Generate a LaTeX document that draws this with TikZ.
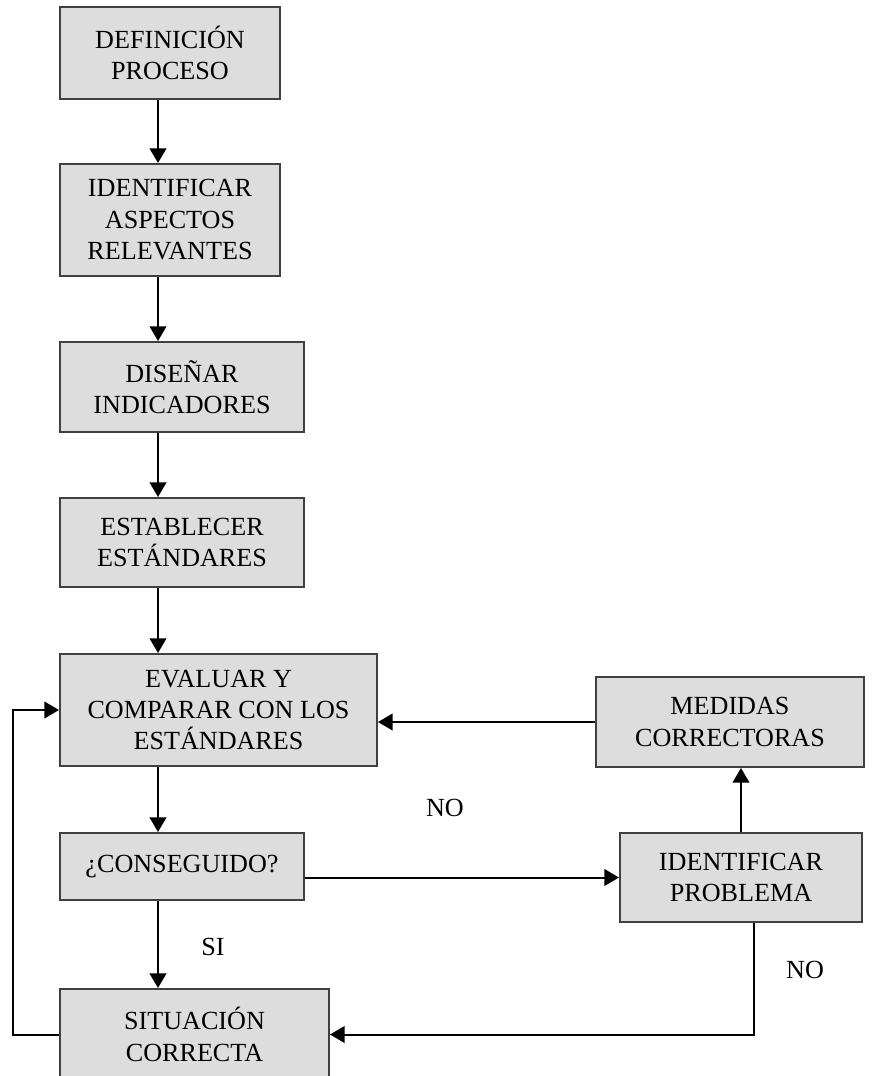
\documentclass[tikz,border=0pt]{standalone}
\usepackage{fontspec}
\setmainfont{Liberation Serif}
\usetikzlibrary{arrows.meta,calc}
\definecolor{boxfill}{HTML}{DDDDDD}
\definecolor{boxline}{HTML}{404040}
\begin{document}
\begin{tikzpicture}[x=0.75pt,y=-0.75pt,
  box/.style={draw=boxline,fill=boxfill,line width=1.5pt,inner sep=0pt,align=center,font=\fontsize{19.6}{23.6}\selectfont},
  lbl/.style={inner sep=0pt,font=\fontsize{19.6}{23.6}\selectfont},
  arr/.style={line width=1.5pt,-{Triangle[width=12.5pt,length=11pt]}},
  ln/.style={line width=1.5pt}]
\path[use as bounding box, clip] (0,0) rectangle (881,1076);

\node[box,minimum width=165pt,minimum height=69pt] (b1) at (170,53) {DEFINICIÓN\\PROCESO};
\node[box,minimum width=165pt,minimum height=84pt] (b2) at (170,220) {IDENTIFICAR\\ASPECTOS\\RELEVANTES};
\node[box,minimum width=183pt,minimum height=67.5pt] (b3) at (182,387) {DISEÑAR\\INDICADORES};
\node[box,minimum width=183pt,minimum height=66.75pt] (b4) at (182,542.5) {ESTABLECER\\ESTÁNDARES};
\node[box,minimum width=237.75pt,minimum height=84pt] (b5) at (218.5,710) {EVALUAR Y\\COMPARAR CON LOS\\ESTÁNDARES};
\node[box,minimum width=183pt,minimum height=50.25pt] (b6) at (182,866.5) {¿CONSEGUIDO?};
\node[box,minimum width=201.75pt,minimum height=68.25pt] (b7) at (194.5,1034.5) {SITUACIÓN\\CORRECTA};
\node[box,minimum width=201pt,minimum height=67.5pt] (m) at (730,722) {MEDIDAS\\CORRECTORAS};
\node[box,minimum width=181.5pt,minimum height=66.75pt] (ip) at (741,877.5) {IDENTIFICAR\\PROBLEMA};

\coordinate (ax) at (158,0);
\coordinate (lx) at (13,0);
\coordinate (dx) at (754,0);

\draw[arr] (b1.south -| ax) -- (b2.north -| ax);
\draw[arr] (b2.south -| ax) -- (b3.north -| ax);
\draw[arr] (b3.south -| ax) -- (b4.north -| ax);
\draw[arr] (b4.south -| ax) -- (b5.north -| ax);
\draw[arr] (b5.south -| ax) -- (b6.north -| ax);
\draw[arr] (b6.south -| ax) -- (b7.north -| ax);

\draw[arr] (b6.east |- ip.west) -- (ip.west);
\draw[arr] (ip.north) -- (m.south -| ip.north);
\draw[arr] (m.west) -- (b5.east |- m.west);
\draw[arr] (ip.south -| dx) -- (dx |- b7.east) -- (b7.east);
\draw[arr] (b7.west) -- (b7.west -| lx) |- (b5.west);

\node[lbl] (no1) at (445,808) {NO};
\node[lbl] (si) at (213,947) {SI};
\node[lbl] (no2) at (805,970) {NO};
\end{tikzpicture}
\end{document}
